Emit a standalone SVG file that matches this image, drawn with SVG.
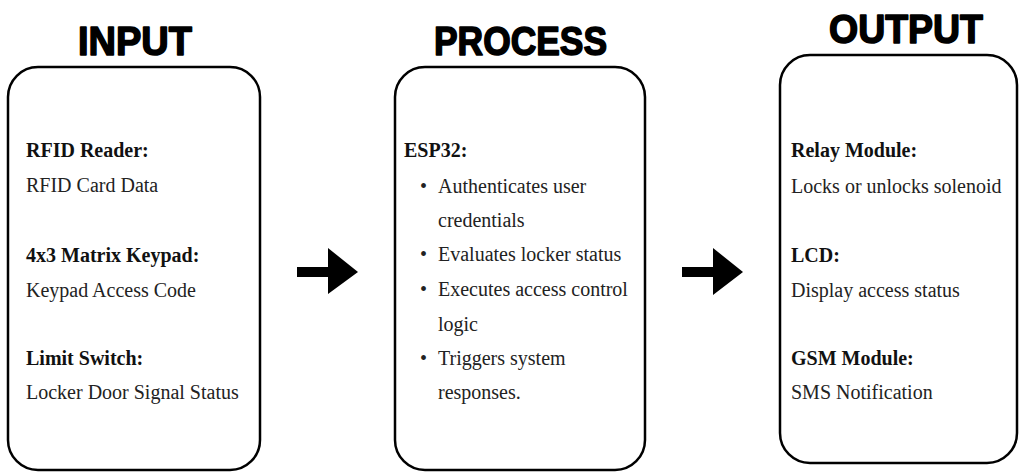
<svg xmlns="http://www.w3.org/2000/svg" width="1019" height="472" viewBox="0 0 1019 472">
<style>
.title{font-family:"Liberation Sans",Arial,sans-serif;font-weight:bold;font-size:41px;fill:#000;stroke:#000;stroke-width:1.6px;stroke-linejoin:round}
.box{fill:#fff;stroke:#000;stroke-width:2.5}
.h{font-family:"Liberation Serif","Times New Roman",serif;font-weight:bold;font-size:20px;fill:#111}
.t{font-family:"Liberation Serif","Times New Roman",serif;font-size:20px;fill:#222}
.arrow{fill:#000}
</style>
<rect width="1019" height="472" fill="#fff"/>
<g id="input">
<text class="title" x="78" y="55" textLength="114" lengthAdjust="spacingAndGlyphs">INPUT</text>
<rect class="box" x="8" y="67" width="252" height="403" rx="30" ry="30"/>
<text class="h" x="26" y="157">RFID Reader:</text>
<text class="t" x="26" y="192">RFID Card Data</text>
<text class="h" x="26" y="262">4x3 Matrix Keypad:</text>
<text class="t" x="26" y="297">Keypad Access Code</text>
<text class="h" x="26" y="365">Limit Switch:</text>
<text class="t" x="26" y="399">Locker Door Signal Status</text>
</g>
<g id="process">
<text class="title" x="434" y="55" textLength="173" lengthAdjust="spacingAndGlyphs">PROCESS</text>
<rect class="box" x="395" y="67" width="250" height="403" rx="30" ry="30"/>
<text class="h" x="404" y="157">ESP32:</text>
<text class="t" x="420" y="193">•</text>
<text class="t" x="438" y="193">Authenticates user</text>
<text class="t" x="438" y="227">credentials</text>
<text class="t" x="420" y="261">•</text>
<text class="t" x="438" y="261">Evaluates locker status</text>
<text class="t" x="420" y="296">•</text>
<text class="t" x="438" y="296">Executes access control</text>
<text class="t" x="438" y="331">logic</text>
<text class="t" x="420" y="365">•</text>
<text class="t" x="438" y="365">Triggers system</text>
<text class="t" x="438" y="399">responses.</text>
</g>
<g id="output">
<text class="title" x="829" y="43" textLength="154" lengthAdjust="spacingAndGlyphs">OUTPUT</text>
<rect class="box" x="780" y="55" width="237" height="408" rx="30" ry="30"/>
<text class="h" x="791" y="157">Relay Module:</text>
<text class="t" x="791" y="193">Locks or unlocks solenoid</text>
<text class="h" x="791" y="262">LCD:</text>
<text class="t" x="791" y="297">Display access status</text>
<text class="h" x="791" y="365">GSM Module:</text>
<text class="t" x="791" y="399">SMS Notification</text>
</g>
<g id="connectors">
<polygon class="arrow" points="297,267 328,267 328,248 358,272 328,294 328,277 297,277"/>
<polygon class="arrow" points="682,267 713,267 713,248 743,272 713,295 713,277 682,277"/>
</g>
</svg>
